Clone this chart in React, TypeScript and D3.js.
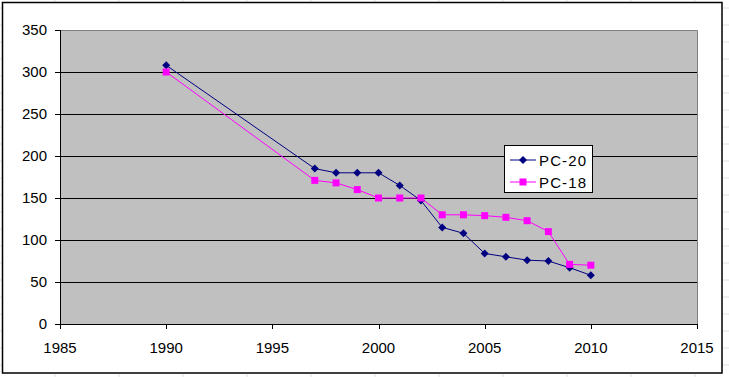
import React from "react";
import * as d3 from "d3";

const years = [1990, 1997, 1998, 1999, 2000, 2001, 2002, 2003, 2004, 2005, 2006, 2007, 2008, 2009, 2010];
const pc20 = [308, 185, 180, 180, 180, 165, 147, 115, 108, 84, 80, 76, 75, 67, 58];
const pc18 = [300, 171, 168, 160, 150, 150, 150, 130, 130, 129, 127, 123, 110, 71, 70];
const xTicks = [1985, 1990, 1995, 2000, 2005, 2010, 2015];
const yTicks = [0, 50, 100, 150, 200, 250, 300, 350];
const seriesNames = ["PC-20", "PC-18"];

const W = 729;
const H = 377;
const L = 60, R = 697, T = 30, B = 324;

export default function App() {
  const x = d3.scaleLinear().domain([1985, 2015]).range([L, R]);
  const y = d3.scaleLinear().domain([0, 350]).range([B, T]);
  const line = d3.line<[number, number]>().x(d => x(d[0])).y(d => y(d[1]));
  const d20 = years.map((yr, i) => [yr, pc20[i]] as [number, number]);
  const d18 = years.map((yr, i) => [yr, pc18[i]] as [number, number]);
  const font = "Arial, 'Liberation Sans', sans-serif";

  const cellXs = d3.range(55, 729, 64);
  const cellYs = d3.range(8, 377, 17);

  return (
    <svg width={W} height={H} style={{ position: "absolute", left: 0, top: 0, background: "#fff" }}>
      {/* spreadsheet cell lines outside chart */}
      {cellXs.map(cx => (
        <g key={"cx" + cx}>
          <line x1={cx} x2={cx} y1={0} y2={2} stroke="#e0e0e0" />
          <line x1={cx} x2={cx} y1={374} y2={377} stroke="#e0e0e0" />
        </g>
      ))}
      {cellYs.map(cy => (
        <g key={"cy" + cy}>
          <line x1={0} x2={2} y1={cy} y2={cy} stroke="#e0e0e0" />
          <line x1={723} x2={729} y1={cy} y2={cy} stroke="#e0e0e0" />
        </g>
      ))}
      <rect x={2.5} y={2.5} width={719.5} height={370.5} fill="#fff" stroke="#000" strokeWidth={1.5} />
      <rect x={L} y={T} width={R - L} height={B - T} fill="#C0C0C0" />
      {yTicks.filter(v => v > 0 && v < 350).map(v => (
        <line key={"g" + v} x1={L} x2={R} y1={Math.round(y(v)) + 0.5} y2={Math.round(y(v)) + 0.5} stroke="#000" />
      ))}
      {/* plot border top/right */}
      <path d={`M${L},${T + 0.5}H${R + 0.5}V${B}`} fill="none" stroke="#808080" />
      {/* axes */}
      <line x1={L + 0.5} x2={L + 0.5} y1={T} y2={B + 0.5} stroke="#000" />
      <line x1={L} x2={R + 1} y1={B + 0.5} y2={B + 0.5} stroke="#000" />
      {yTicks.map(v => (
        <g key={"yt" + v}>
          <line x1={L - 5} x2={L} y1={Math.round(y(v)) + 0.5} y2={Math.round(y(v)) + 0.5} stroke="#000" />
          <text x={47} y={y(v)} dy="0.36em" textAnchor="end" fontFamily={font} fontSize={15} fill="#000">{v}</text>
        </g>
      ))}
      {xTicks.map(v => (
        <g key={"xt" + v}>
          <line x1={Math.round(x(v)) + 0.5} x2={Math.round(x(v)) + 0.5} y1={B} y2={B + 5} stroke="#000" />
          <text x={x(v)} y={353} textAnchor="middle" fontFamily={font} fontSize={15} fill="#000">{v}</text>
        </g>
      ))}
      {/* series */}
      <path d={line(d18) || ""} fill="none" stroke="#FF00FF" strokeWidth={1} />
      <path d={line(d20) || ""} fill="none" stroke="#000080" strokeWidth={1} />
      {d20.map((p, i) => (
        <path key={"m20" + i} d={`M${x(p[0])},${y(p[1]) - 4}L${x(p[0]) + 4},${y(p[1])}L${x(p[0])},${y(p[1]) + 4}L${x(p[0]) - 4},${y(p[1])}Z`} fill="#000080" />
      ))}
      {d18.map((p, i) => (
        <rect key={"m18" + i} x={x(p[0]) - 3.5} y={y(p[1]) - 3.5} width={7} height={7} fill="#FF00FF" />
      ))}
      {/* legend */}
      <rect x={504.5} y={145.5} width={88} height={47} fill="#fff" stroke="#000" />
      <line x1={510} x2={536} y1={160} y2={160} stroke="#000080" />
      <path d="M523,156L527,160L523,164L519,160Z" fill="#000080" />
      <text x={539} y={165.5} fontFamily={font} fontSize={15} textLength={47} fill="#000">{seriesNames[0]}</text>
      <line x1={510} x2={536} y1={182} y2={182} stroke="#FF00FF" />
      <rect x={519.5} y={178.5} width={7} height={7} fill="#FF00FF" />
      <text x={539} y={187.5} fontFamily={font} fontSize={15} textLength={47} fill="#000">{seriesNames[1]}</text>
    </svg>
  );
}
